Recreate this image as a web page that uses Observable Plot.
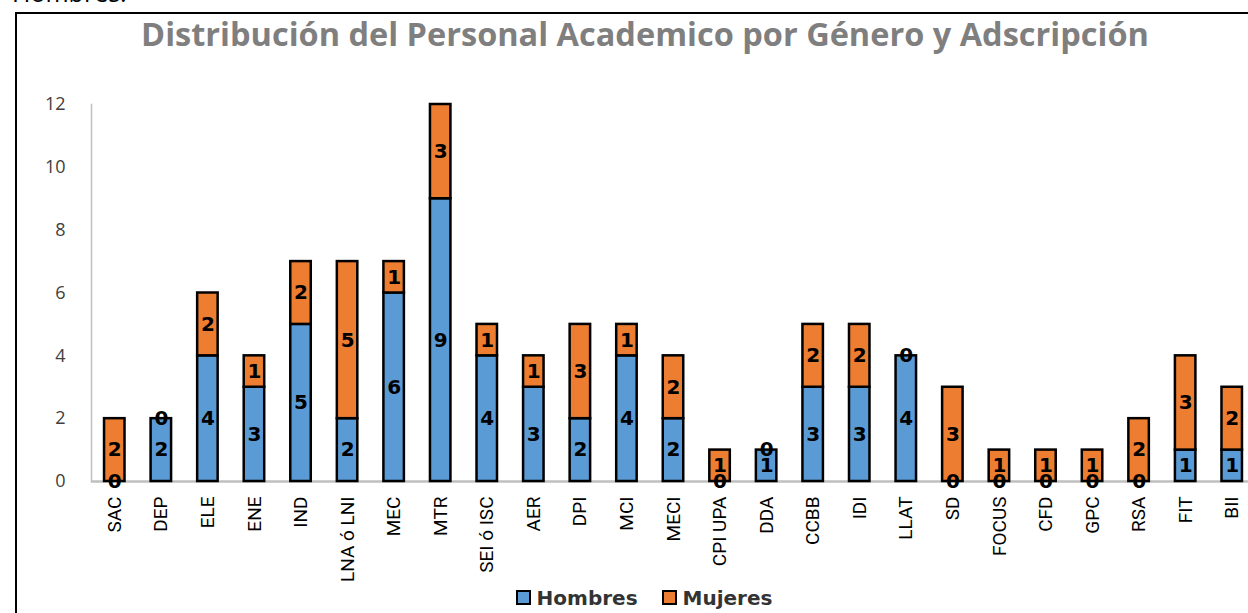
<!DOCTYPE html>
<html>
<head>
<meta charset="utf-8">
<script src="https://cdn.jsdelivr.net/npm/d3@7"></script>
<script src="https://cdn.jsdelivr.net/npm/@observablehq/plot@0.6"></script>
<style>
  html, body { margin: 0; padding: 0; background: #fff; overflow: hidden; width: 1248px; height: 613px; }
  #frag { position: absolute; left: 12px; top: -25px; font: 25px "Open Sans", sans-serif; color: #000; line-height: 34px; }
  #box { position: absolute; left: 15px; top: 12px; width: 1400px; height: 800px; border: 2px solid #000; box-sizing: border-box; }
  #title { position: absolute; left: 0; width: 1290px; top: 11px; text-align: center; font: bold 32.5px "Open Sans", sans-serif; color: #7f7f7f; white-space: nowrap; }
  #chart { position: absolute; left: 0; top: 0; width: 1275px; }
  #chart svg { max-width: none !important; }
  #legend { position: absolute; left: 0; width: 1288px; top: 586px; text-align: center; font: bold 20px "DejaVu Sans", sans-serif; color: #333; white-space: nowrap; }
  #legend span.sw { display: inline-block; width: 11px; height: 11px; border: 2px solid #000; margin-right: 6px; vertical-align: 0px; }
  #legend span.item { margin: 0 12px; }
</style>
</head>
<body>
<div id="frag">Hombres.</div>
<div id="box"></div>
<div id="title">Distribución del Personal Academico por Género y Adscripción</div>
<div id="chart"></div>
<div id="legend"></div>
<script>
const categories = ["SAC","DEP","ELE","ENE","IND","LNA ó LNI","MEC","MTR","SEI ó ISC","AER","DPI","MCI","MECI","CPI UPA","DDA","CCBB","IDI","LLAT","SD","FOCUS","CFD","GPC","RSA","FIT","BII"];
const hombres = [0,2,4,3,5,2,6,9,4,3,2,4,2,0,1,3,3,4,0,0,0,0,0,1,1];
const mujeres = [2,0,2,1,2,5,1,3,1,1,3,1,2,1,0,2,2,0,3,1,1,1,2,3,2];
const series = ["Hombres","Mujeres"];
const colors = ["#5B9BD5","#ED7D31"];
const yTicks = [0,2,4,6,8,10,12];

const data = [];
categories.forEach((c, i) => {
  data.push({cat: c, serie: series[0], value: hombres[i]});
  data.push({cat: c, serie: series[1], value: mujeres[i]});
});

const chart = Plot.plot({
  width: 1275,
  height: 585,
  marginLeft: 91,
  marginRight: 20,
  marginTop: 104,
  marginBottom: 104,
  style: {background: "transparent", overflow: "visible", maxWidth: "none"},
  x: {domain: categories, paddingInner: 0.56, paddingOuter: 0.28, round: false, label: null},
  y: {domain: [0, 12], label: null},
  color: {domain: series, range: colors},
  marks: [
    Plot.frame({anchor: "left", stroke: "#bfbfbf", strokeWidth: 1.5}),
    Plot.ruleY([0], {stroke: "#bfbfbf", strokeWidth: 2.5}),
    Plot.axisY({ticks: yTicks, tickSize: 0, tickPadding: 26, fontSize: 18, fill: "#404040", fontFamily: "Open Sans, sans-serif", label: null}),
    Plot.axisX({tickSize: 0, tickPadding: 15, tickRotate: -90, fontSize: 19, fill: "#000", fontFamily: "Liberation Sans Narrow, Roboto, sans-serif", label: null}),
    Plot.barY(data, {x: "cat", y: "value", z: "serie", fill: "serie", stroke: "#000", strokeWidth: 2.5, order: series}),
    Plot.textY(data, Plot.stackY({x: "cat", y: "value", z: "serie", text: d => String(d.value), order: series, fontSize: 20, fontWeight: "bold", fill: "#000", fontFamily: "DejaVu Sans, sans-serif"}))
  ]
});
document.getElementById("chart").appendChild(chart);

const legend = document.getElementById("legend");
series.forEach((s, i) => {
  const item = document.createElement("span");
  item.className = "item";
  const sw = document.createElement("span");
  sw.className = "sw";
  sw.style.background = colors[i];
  item.appendChild(sw);
  item.appendChild(document.createTextNode(s));
  legend.appendChild(item);
});
</script>
</body>
</html>
